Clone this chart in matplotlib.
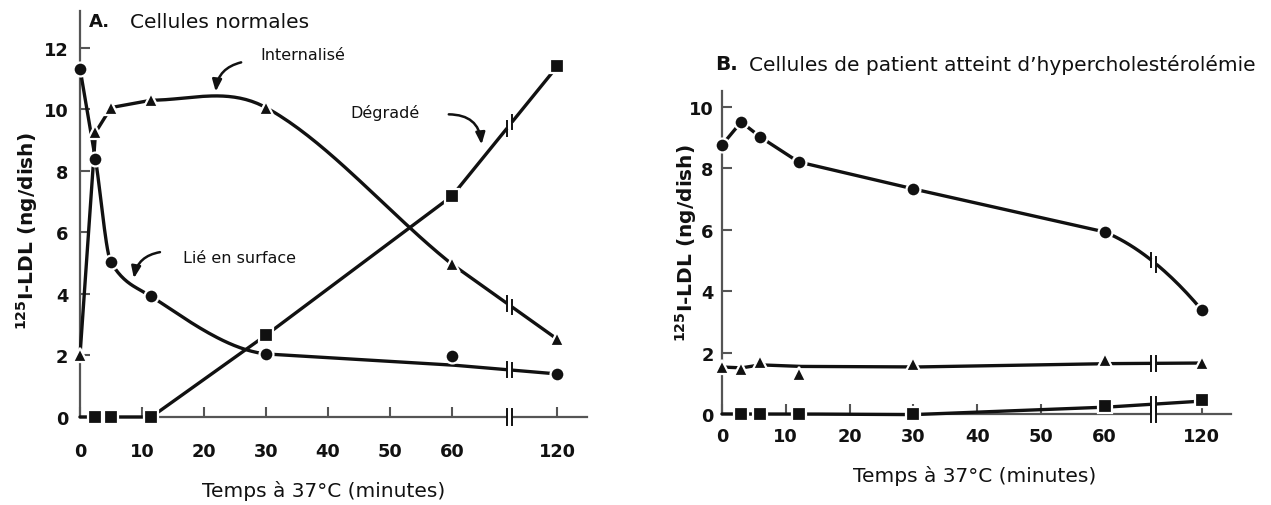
import numpy as np
import matplotlib
matplotlib.use("Agg")
import matplotlib.pyplot as plt

# ---------------- data ----------------
xticks = [0, 10, 20, 30, 40, 50, 60, 120]
yticks_A = [0, 2, 4, 6, 8, 10, 12]
yticks_B = [0, 2, 4, 6, 8, 10]

# Panel A : normal cells
tA = [0, 2.5, 5, 11.5, 30, 60, 120]
A_surface = [11.33, 8.38, 5.03, 3.92, 2.05, 1.98, 1.40]
A_surface_line = [11.33, 8.38, 5.03, 3.92, 2.05, 1.69, 1.40]
A_internal = [2.0, 9.25, 10.06, 10.30, 10.06, 4.97, 2.53]
A_degraded = [np.nan, 0.0, 0.0, 0.0, 2.66, 7.18, 11.40]
A_degraded_line = [0.0, 0.0, 0.0, 0.0, 2.66, 7.18, 11.40]

# Panel B : hypercholesterolaemia patient cells
tB = [0, 3, 6, 12, 30, 60, 120]
B_surface = [8.76, 9.51, 9.02, 8.21, 7.33, 5.93, 3.39]
B_internal = [1.53, 1.47, 1.69, 1.30, 1.63, 1.76, 1.66]
B_internal_line = [1.53, 1.50, 1.60, 1.55, 1.53, 1.64, 1.66]
B_degraded = [np.nan, 0.0, 0.0, 0.0, 0.0, 0.26, 0.45]
B_degraded_line = [0.0, 0.0, 0.0, 0.0, -0.02, 0.22, 0.42]

INK = "#111111"
AXC = "#555555"

# ---------------- helpers ----------------
def make_scale(k):
    def fwd(t):
        t = np.asarray(t, dtype=float)
        return np.where(t <= 60, t, 60 + (t - 60) * k)
    def inv(u):
        u = np.asarray(u, dtype=float)
        return np.where(u <= 60, u, 60 + (u - 60) / k)
    return fwd, inv


def curve(u, y, methods):
    """Hermite curve; methods: one entry per segment, 'lin' / 'cr' / 'pchip'."""
    u = np.asarray(u, float); y = np.asarray(y, float)
    n = len(u)
    if isinstance(methods, str):
        methods = [methods] * (n - 1)
    h = np.diff(u); d = np.diff(y) / h
    mcr = np.zeros(n)
    mcr[1:-1] = (y[2:] - y[:-2]) / (u[2:] - u[:-2])
    mcr[0] = 2 * d[0] - mcr[1]
    mcr[-1] = 2 * d[-1] - mcr[-2]
    mp = np.zeros(n)
    for k in range(1, n - 1):
        if d[k - 1] * d[k] > 0:
            w1 = 2 * h[k] + h[k - 1]; w2 = h[k] + 2 * h[k - 1]
            mp[k] = (w1 + w2) / (w1 / d[k - 1] + w2 / d[k])
    mp[0] = d[0]; mp[-1] = d[-1]
    us, ys = [], []
    for i in range(n - 1):
        meth = methods[i]
        if meth == "lin":
            m0 = m1 = d[i]
        elif meth == "cr":
            m0, m1 = mcr[i], mcr[i + 1]
        else:
            m0, m1 = mp[i], mp[i + 1]
        s = np.linspace(0, 1, 40, endpoint=(i == n - 2))
        h00 = 2 * s**3 - 3 * s**2 + 1; h10 = s**3 - 2 * s**2 + s
        h01 = -2 * s**3 + 3 * s**2; h11 = s**3 - s**2
        us.append(u[i] + s * h[i])
        ys.append(h00 * y[i] + h10 * h[i] * m0 + h01 * y[i + 1] + h11 * h[i] * m1)
    return np.concatenate(us), np.concatenate(ys)


def add_break(ax, inv, ub, cu, cy, dy, lw_white=5):
    g = 0.4
    u1, u2 = ub - g, ub + g
    sel = (cu >= u1) & (cu <= u2)
    uu = np.concatenate([[u1], cu[sel], [u2]])
    yy = np.interp(uu, cu, cy)
    ax.plot(inv(uu), yy, color="white", lw=lw_white, zorder=5,
            solid_capstyle="butt", clip_on=False)
    for uv in (u1, u2):
        yv = np.interp(uv, cu, cy)
        ax.plot(inv([uv, uv]), [yv - dy, yv + dy], color=INK, lw=1.4,
                zorder=6, clip_on=False)


def draw_series(ax, fwd, inv, t, yline, ymark, marker, ms, methods, ub, dy, mstart=0):
    cu, cy = curve(fwd(t), yline, methods)
    ax.plot(inv(cu), cy, color=INK, lw=2.4, zorder=3, clip_on=False,
            solid_capstyle="round")
    tm = np.asarray(t, float)[mstart:]
    ym = np.asarray(ymark, float)[mstart:]
    ax.plot(tm, ym, linestyle="none", marker=marker, ms=ms, mfc=INK,
            mec="white", mew=1.6, zorder=4, clip_on=False)
    add_break(ax, inv, ub, cu, cy, dy)


def style_axis(ax, fwd, inv, umax, ymax, yticks, xpad, ypad, ub):
    ax.set_xscale("function", functions=(fwd, inv))
    ax.set_xlim(0, float(inv(umax)))
    ax.set_ylim(0, ymax)
    ax.set_xticks(xticks)
    ax.set_xticklabels([str(v) for v in xticks])
    ax.set_yticks(yticks)
    ax.set_yticklabels([str(v) for v in yticks])
    ax.minorticks_off()
    for s in ("top", "right"):
        ax.spines[s].set_visible(False)
    for s in ("left", "bottom"):
        ax.spines[s].set_color(AXC)
        ax.spines[s].set_linewidth(1.6)
    ax.tick_params(axis="both", direction="in", length=7, width=1.5,
                   color=AXC, labelsize=12.8, labelcolor=INK)
    ax.tick_params(axis="x", pad=xpad)
    ax.tick_params(axis="y", pad=ypad)
    for lab in ax.get_xticklabels() + ax.get_yticklabels():
        lab.set_fontweight("bold")
    cu = np.array([0.0, umax]); cy = np.array([0.0, 0.0])
    add_break(ax, inv, ub, cu, cy, 0.26, lw_white=4)


# ---------------- figure ----------------
W, H = 1271, 506
fig = plt.figure(figsize=(W / 100, H / 100), dpi=100)
fig.patch.set_facecolor("white")
plt.rcParams["font.family"] = ["DejaVu Sans"]

axA = fig.add_axes([80 / W, 88 / H, 507 / W, 406 / H])
axB = fig.add_axes([722 / W, 91 / H, 509 / W, 323 / H])

fA, iA = make_scale(17.0 / 60)
fB, iB = make_scale(15.2 / 60)
ubA, ubB = 69.3, 67.7

style_axis(axA, fA, iA, 81.8, 13.2, yticks_A, 18, 8.5, ubA)
style_axis(axB, fB, iB, 79.8, 10.52, yticks_B, 9.5, 6, ubB)

# Panel A series
draw_series(axA, fA, iA, tA, A_surface_line, A_surface, "o", 10,
            ["lin", "pchip", "pchip", "pchip", "lin", "lin"], ubA, 0.24)
draw_series(axA, fA, iA, tA, A_internal, A_internal, "^", 10,
            ["lin", "lin", "lin", "cr", "cr", "lin"], ubA, 0.24)
draw_series(axA, fA, iA, tA, A_degraded_line, A_degraded, "s", 9.5, "lin", ubA, 0.24, mstart=1)

# Panel B series
draw_series(axB, fB, iB, tB, B_surface, B_surface, "o", 10,
            ["lin", "lin", "lin", "lin", "lin", "cr"], ubB, 0.24)
draw_series(axB, fB, iB, tB, B_internal_line, B_internal, "^", 10, "lin", ubB, 0.24)
draw_series(axB, fB, iB, tB, B_degraded_line, B_degraded, "s", 9.5, "lin", ubB, 0.24, mstart=1)

# annotations in panel A
afs = 11.5
axA.text(36.0, 11.79, "Internalisé", fontsize=afs, ha="center", va="center", color=INK)
axA.text(49.2, 9.90, "Dégradé", fontsize=afs, ha="center", va="center", color=INK)
axA.text(25.8, 5.19, "Lié en surface", fontsize=afs, ha="center", va="center", color=INK)
arrow = dict(arrowstyle="-|>,head_length=0.7,head_width=0.28", color=INK, lw=1.8,
             shrinkA=0, shrinkB=0)
axA.annotate("", xy=(21.9, 10.58), xytext=(26.0, 11.53),
             arrowprops=dict(arrow, connectionstyle="arc3,rad=0.35"))
axA.annotate("", xy=(76.9, 8.86), xytext=(59.5, 9.84),
             arrowprops=dict(arrow, connectionstyle="arc3,rad=-0.45"))
axA.annotate("", xy=(8.7, 4.51), xytext=(12.9, 5.36),
             arrowprops=dict(arrow, connectionstyle="arc3,rad=0.35"))

# titles
fig.text(89 / W, 1 - 22 / H, "A.", fontsize=13, fontweight="bold", ha="left", va="center", color=INK)
fig.text(130 / W, 1 - 22 / H, "Cellules normales", fontsize=14.5, ha="left", va="center", color=INK)
fig.text(715 / W, 1 - 65 / H, "B.", fontsize=14.5, fontweight="bold", ha="left", va="center", color=INK)
fig.text(749 / W, 1 - 65 / H, "Cellules de patient atteint d\u2019hypercholestérolémie",
         fontsize=14.5, ha="left", va="center", color=INK)

# axis labels
ylab = r"$\mathbf{^{125}}$I-LDL (ng/dish)"
fig.text(27 / W, 1 - 231 / H, ylab, rotation=90, fontsize=14.5, fontweight="bold",
         ha="center", va="center", color=INK)
fig.text(686 / W, 1 - 243 / H, ylab, rotation=90, fontsize=14.5, fontweight="bold",
         ha="center", va="center", color=INK)
fig.text(324 / W, 1 - 491 / H, "Temps à 37°C (minutes)", fontsize=14.5, ha="center",
         va="center", color=INK)
fig.text(975 / W, 1 - 476 / H, "Temps à 37°C (minutes)", fontsize=14.5, ha="center",
         va="center", color=INK)

fig.savefig("out.png", dpi=100, facecolor="white")
